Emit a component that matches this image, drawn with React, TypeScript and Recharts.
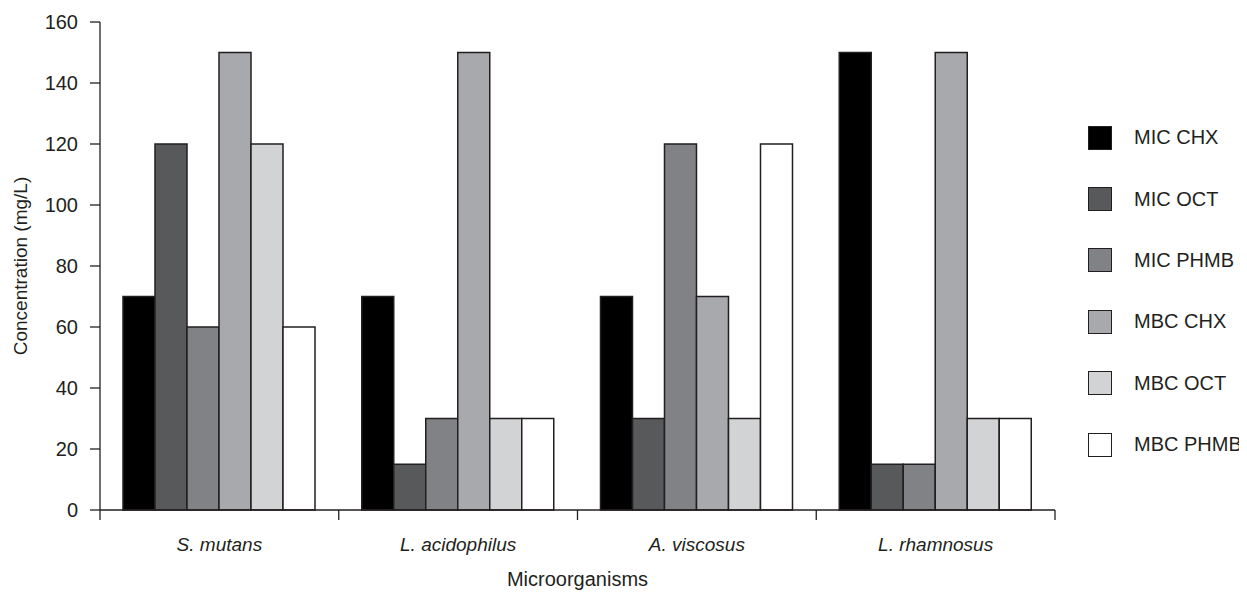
import { BarChart, Bar, XAxis, YAxis } from "recharts";

const organisms = ["S. mutans", "L. acidophilus", "A. viscosus", "L. rhamnosus"];
const micChx = [70, 70, 70, 150];
const micOct = [120, 15, 30, 15];
const micPhmb = [60, 30, 120, 15];
const mbcChx = [150, 150, 70, 150];
const mbcOct = [120, 30, 30, 30];
const mbcPhmb = [60, 30, 120, 30];
const yTicks = [0, 20, 40, 60, 80, 100, 120, 140, 160];

const series = [
  { key: "micChx", name: "MIC CHX", values: micChx, color: "#000000" },
  { key: "micOct", name: "MIC OCT", values: micOct, color: "#58595b" },
  { key: "micPhmb", name: "MIC PHMB", values: micPhmb, color: "#808285" },
  { key: "mbcChx", name: "MBC CHX", values: mbcChx, color: "#a7a9ac" },
  { key: "mbcOct", name: "MBC OCT", values: mbcOct, color: "#d1d3d4" },
  { key: "mbcPhmb", name: "MBC PHMB", values: mbcPhmb, color: "#ffffff" },
];

const data = organisms.map((name, i) => {
  const row: Record<string, string | number> = { name };
  series.forEach((s) => (row[s.key] = s.values[i]));
  return row;
});

const FONT = "'Liberation Sans', Arial, sans-serif";
const INK = "#231f20";
const W = 1239;
const H = 586;
const PLOT_LEFT = 92;
const PLOT_RIGHT = 1047;
const BAND = (PLOT_RIGHT - PLOT_LEFT) / organisms.length;

function XTick(props: any) {
  const { x, y, payload, index } = props;
  const half = BAND / 2;
  return (
    <g>
      <line x1={x - half} x2={x - half} y1={y - 10} y2={y} stroke={INK} strokeWidth={1.3} />
      {index === organisms.length - 1 && (
        <line x1={x + half} x2={x + half} y1={y - 10} y2={y} stroke={INK} strokeWidth={1.3} />
      )}
      <text x={x} y={y + 31} textAnchor="middle" fontStyle="italic" fontSize={19} fontFamily={FONT} fill={INK}>
        {payload.value}
      </text>
    </g>
  );
}

export default function App() {
  return (
    <div style={{ position: "relative", width: W, height: H, fontFamily: FONT }}>
      <BarChart
        width={W}
        height={H}
        data={data}
        margin={{ top: 14, right: W - PLOT_RIGHT, bottom: 24, left: 0 }}
        barCategoryGap={23}
        barGap={0}
      >
        <XAxis
          dataKey="name"
          height={60}
          tickLine={false}
          tickSize={10}
          tickMargin={0}
          interval={0}
          tick={<XTick />}
          axisLine={{ stroke: INK, strokeWidth: 1.3 }}
          label={{
            content: (p: any) => (
              <text
                x={p.viewBox.x + p.viewBox.width / 2}
                y={578}
                textAnchor="middle"
                fontSize={20}
                fontFamily={FONT}
                fill={INK}
              >
                Microorganisms
              </text>
            ),
          }}
        />
        <YAxis
          width={PLOT_LEFT}
          domain={[0, 160]}
          ticks={yTicks}
          interval={0}
          tickSize={10}
          tickMargin={12}
          tick={{ fontSize: 20, fontFamily: FONT, fill: INK }}
          tickLine={{ stroke: INK, strokeWidth: 1.3 }}
          axisLine={{ stroke: INK, strokeWidth: 1.3 }}
          label={{
            content: (p: any) => {
              const cy = p.viewBox.y + p.viewBox.height / 2;
              return (
                <text
                  x={19}
                  y={cy}
                  transform={`rotate(-90 19 ${cy})`}
                  textAnchor="middle"
                  fontSize={19}
                  fontFamily={FONT}
                  fill={INK}
                >
                  Concentration (mg/L)
                </text>
              );
            },
          }}
        />
        {series.map((s) => (
          <Bar
            key={s.key}
            dataKey={s.key}
            name={s.name}
            fill={s.color}
            stroke={INK}
            strokeWidth={1.5}
            isAnimationActive={false}
          />
        ))}
      </BarChart>
      <div style={{ position: "absolute", left: 1080, top: 99 }}>
        {series.map((s) => (
          <div key={s.key} style={{ display: "flex", alignItems: "center", height: 61.4 }}>
            <div
              style={{
                width: 24,
                height: 24,
                boxSizing: "border-box",
                background: s.color,
                border: `1.5px solid ${INK}`,
              }}
            />
            <span style={{ marginLeft: 22, fontSize: 20, color: INK, whiteSpace: "nowrap" }}>{s.name}</span>
          </div>
        ))}
      </div>
    </div>
  );
}
